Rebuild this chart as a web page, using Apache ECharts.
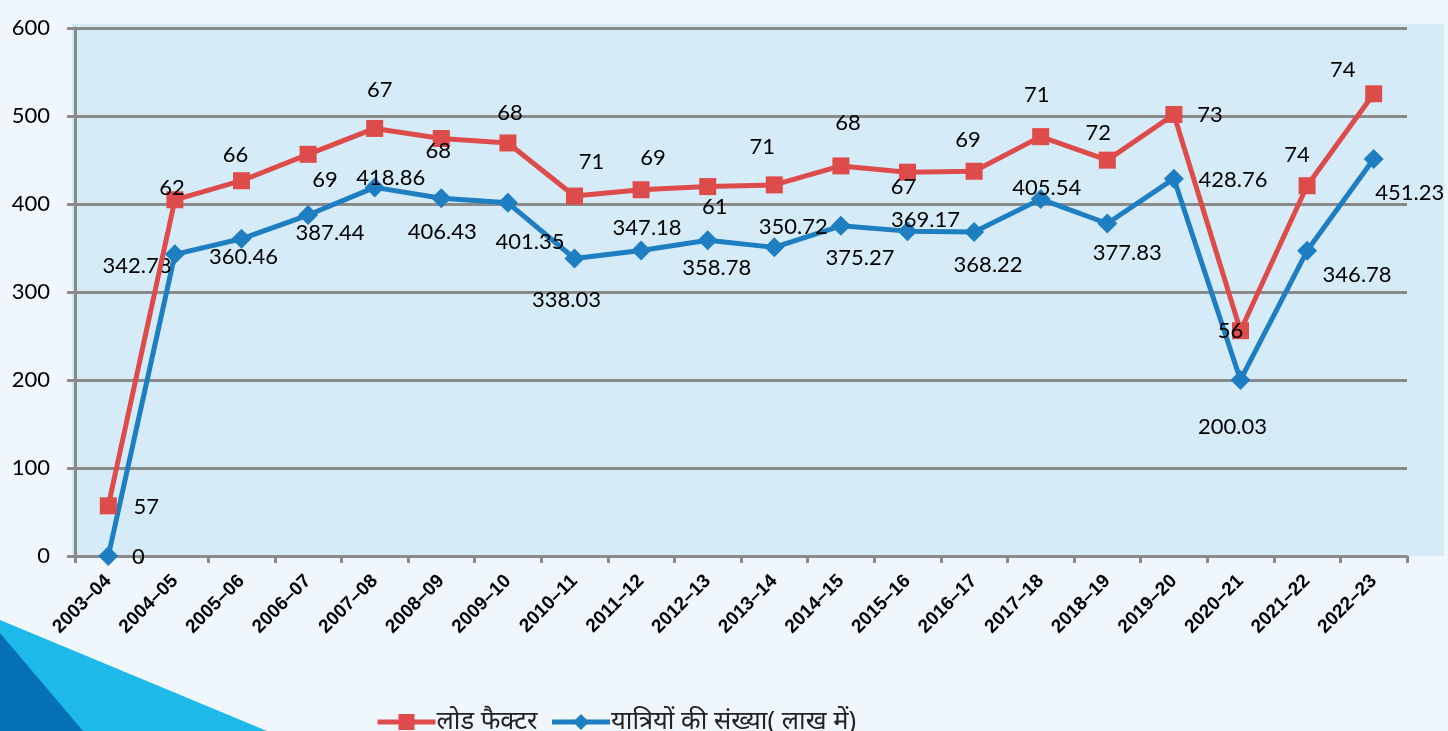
<!DOCTYPE html>
<html>
<head>
<meta charset="utf-8">
<script src="https://cdn.jsdelivr.net/npm/echarts@6/dist/echarts.min.js"></script>
<style>
html,body{margin:0;padding:0;background:#eff7fd;}
#chart{width:1448px;height:731px;}
</style>
</head>
<body>
<div id="chart"></div>
<script>
// ---- data ----
var categories = ['2003–04','2004–05','2005–06','2006–07','2007–08','2008–09','2009–10','2010–11','2011–12','2012–13','2013–14','2014–15','2015–16','2016–17','2017–18','2018–19','2019–20','2020–21','2021–22','2022–23'];
var passengers = [0, 342.78, 360.46, 387.44, 418.86, 406.43, 401.35, 338.03, 347.18, 358.78, 350.72, 375.27, 369.17, 368.22, 405.54, 377.83, 428.76, 200.03, 346.78, 451.23];
var loadFactor = [57, 62, 66, 69, 67, 68, 68, 71, 69, 61, 71, 68, 67, 69, 71, 72, 73, 56, 74, 74];
var yTicks = [0, 100, 200, 300, 400, 500, 600];
var seriesNames = ['लोड फैक्टर', 'यात्रियों की संख्या( लाख में)'];

// ---- label placement (style) ----
var redLabelOffsets = [[38,1],[-3,-12],[-6,-26],[17,26],[5,-39],[-3,12],[2,-30],[17,-34],[12,-32],[7,20],[-12,-38],[7,-43],[-4,15],[-6,-31],[-4,-42],[-9,-27],[36,0],[-10,0],[-10,-31],[-31,-24]];
var blueLabelOffsets = [[30,1],[-38,12],[2,18],[22,18],[16,-9],[1,34],[22,39],[-8,41],[6,-23],[9,28],[19,-20],[19,32],[18,-11],[14,33],[6,-11],[20,29],[59,1],[-8,47],[50,24],[36,34]];

var RED = '#dd4c4a', BLUE = '#1e7ec2';
var labelBase = {show:true, position:'inside', color:'#000', fontFamily:'Lato, "Open Sans", sans-serif', fontSize:22, align:'center', verticalAlign:'middle'};

function build(values, offsets){
  return values.map(function(v,i){ return {value:v, label:{offset:offsets[i]}}; });
}

var chart = echarts.init(document.getElementById('chart'), null, {renderer:'canvas'});
chart.setOption({
  backgroundColor:'#eff7fd',
  animation:false,
  graphic:[
    {type:'rect', z:-10, shape:{x:72,y:24,width:1372,height:532}, style:{fill:'#d5ebf8'}},
    {type:'polygon', z:-10, shape:{points:[[0,620],[267,731],[0,731]]}, style:{fill:'#1db9e9'}},
    {type:'polygon', z:-9, shape:{points:[[0,633],[83,731],[0,731]]}, style:{fill:'#0670b6'}}
  ],
  grid:{left:75, right:41, top:28, bottom:175, containLabel:false},
  legend:{
    left:370, top:704, itemWidth:58, itemHeight:20, itemGap:12,
    data:seriesNames,
    lineStyle:{width:5},
    textStyle:{fontSize:25.5, color:'#222', fontFamily:'"Noto Sans", sans-serif', padding:[0,0,0,-4]}
  },
  xAxis:{
    type:'category', data:categories, boundaryGap:true,
    axisLine:{lineStyle:{color:'#8a8a8a', width:3}},
    axisTick:{show:true, length:7, lineStyle:{color:'#8a8a8a', width:3}},
    axisLabel:{rotate:45, interval:0, margin:22, fontSize:19, fontWeight:'bold', color:'#000', fontFamily:'"Liberation Sans", Arial, sans-serif'}
  },
  yAxis:{
    type:'value', min:yTicks[0], max:yTicks[yTicks.length-1], interval:100,
    axisLine:{show:true, lineStyle:{color:'#8a8a8a', width:3}},
    axisTick:{show:true, length:8, lineStyle:{color:'#8a8a8a', width:3}},
    splitLine:{lineStyle:{color:'#8a8a8a', width:3}},
    axisLabel:{margin:25, fontSize:22, color:'#000', fontFamily:'Lato, "Open Sans", sans-serif'}
  },
  series:[
    {
      name:seriesNames[1], type:'line', stack:'total', data:build(passengers, blueLabelOffsets),
      symbol:'diamond', symbolSize:20, lineStyle:{color:BLUE, width:5}, itemStyle:{color:BLUE},
      label:labelBase, z:3
    },
    {
      name:seriesNames[0], type:'line', stack:'total', data:build(loadFactor, redLabelOffsets),
      symbol:'rect', symbolSize:17, lineStyle:{color:RED, width:5}, itemStyle:{color:RED},
      label:labelBase, z:4
    }
  ]
});
</script>
</body>
</html>
